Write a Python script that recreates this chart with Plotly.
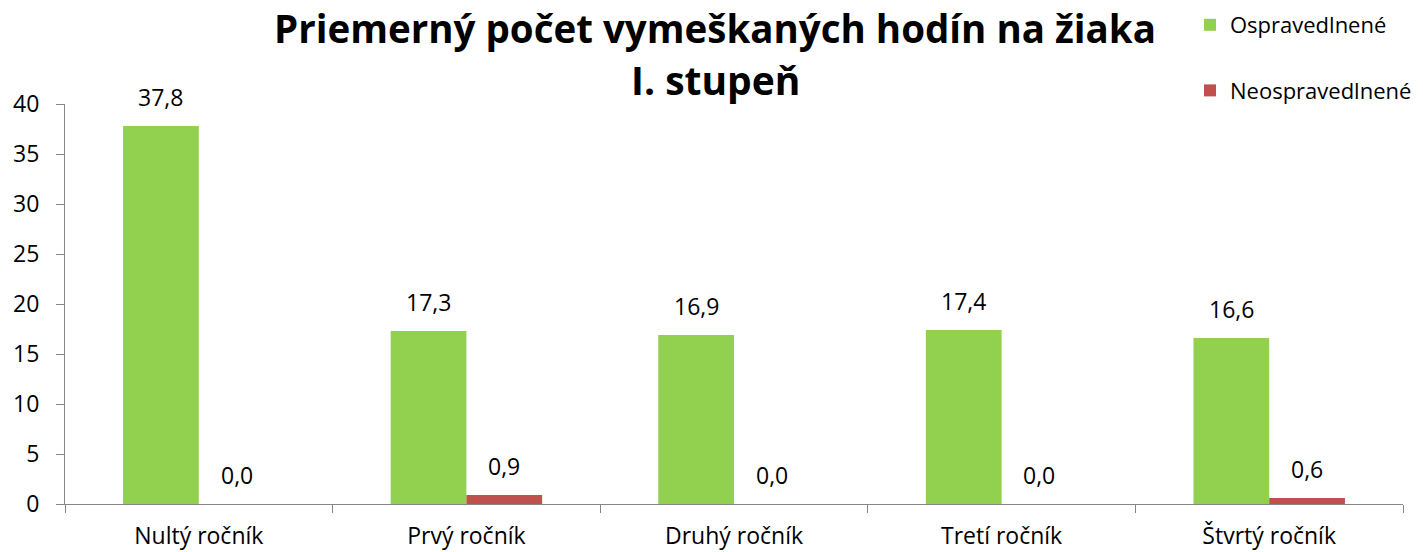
import plotly.graph_objects as go

categories = ["Nultý ročník", "Prvý ročník", "Druhý ročník", "Tretí ročník", "Štvrtý ročník"]
ospravedlnene = [37.8, 17.3, 16.9, 17.4, 16.6]
neospravedlnene = [0.0, 0.9, 0.0, 0.0, 0.6]
y_ticks = [0, 5, 10, 15, 20, 25, 30, 35, 40]
title_line1 = "Priemerný počet vymeškaných hodín na žiaka"
title_line2 = "I. stupeň"

FONT = "Open Sans"
GREEN = "#92D050"
RED = "#C0504D"
AXIS = "#868686"

# page body has an 8px default margin; figure sized to compensate
W, H = 1415, 544
L, R, T, B = 57, 20, 96, 48
PW = W - L - R
PH = H - T - B
cat_w = PW / len(categories)
BARGAP = 0.434
bar_w = cat_w * (1 - BARGAP) / 2

fig = go.Figure()
fig.add_trace(go.Bar(
    name="Ospravedlnené", x=categories, y=ospravedlnene,
    marker=dict(color=GREEN, line=dict(width=0)),
    legendgroup="a",
))
fig.add_trace(go.Bar(
    name="Neospravedlnené", x=categories, y=neospravedlnene,
    marker=dict(color=RED, line=dict(width=0)),
    legendgroup="b",
))

annotations = []
for series, shift in ((ospravedlnene, -bar_w / 2), (neospravedlnene, bar_w / 2)):
    for c, v in zip(categories, series):
        annotations.append(dict(
            x=c, y=v, xref="x", yref="y",
            text=f"{v:.1f}".replace(".", ","),
            showarrow=False, xanchor="center", yanchor="bottom",
            xshift=shift, yshift=11,
            font=dict(size=23, family=FONT, color="#000000"),
        ))
annotations.append(dict(
    x=(707 - L) / PW, y=(H - B - 72) / PH, xref="paper", yref="paper",
    text=f"<b>{title_line2}</b>", showarrow=False,
    xanchor="center", yanchor="middle",
    font=dict(size=39, family=FONT, color="#000000"),
))

fig.update_layout(
    width=W, height=H,
    margin=dict(l=L, r=R, t=T, b=B, autoexpand=False),
    paper_bgcolor="white", plot_bgcolor="white",
    separators=", ",
    barmode="group", bargap=BARGAP, bargroupgap=0,
    font=dict(family=FONT, size=23, color="#000000"),
    title=dict(
        text=f"<b>{title_line1}</b>",
        xref="container", yref="container",
        x=707 / W, xanchor="center", y=1 - 22 / H, yanchor="middle",
        font=dict(size=38.5, family=FONT, color="#000000"),
    ),
    legend=dict(
        xref="paper", yref="paper",
        x=(1182 - L) / PW, xanchor="left", y=(H - B + 4) / PH, yanchor="top",
        font=dict(size=22, family=FONT),
        tracegroupgap=34, bgcolor="rgba(0,0,0,0)",
        itemwidth=30,
    ),
    showlegend=True,
    annotations=annotations,
)
fig.update_xaxes(
    showline=True, linecolor=AXIS, linewidth=1,
    ticks="outside", tickcolor=AXIS, ticklen=8,
    tickson="boundaries", showgrid=False,
    tickfont=dict(size=23, family=FONT),
    ticklabelstandoff=11,
)
fig.update_yaxes(
    range=[0, 40], tickvals=y_ticks,
    showline=True, linecolor=AXIS, linewidth=1,
    ticks="outside", tickcolor=AXIS, ticklen=8,
    showgrid=False, zeroline=False,
    tickfont=dict(size=23, family=FONT),
    ticklabelstandoff=12,
)

fig.write_html("out.html")
